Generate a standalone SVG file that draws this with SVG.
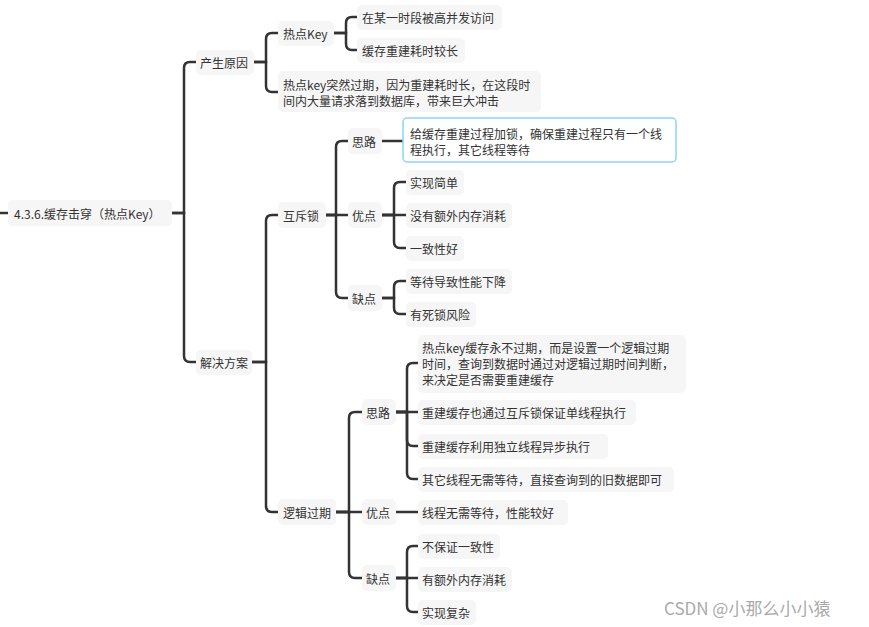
<svg xmlns="http://www.w3.org/2000/svg" width="869" height="627" viewBox="0 0 869 627">
<style>
.b{fill:#f6f6f6}
.hl{fill:#fff;stroke:#8fd3f5;stroke-width:1.5}
text{font-family:"Noto Sans CJK SC","Liberation Sans",sans-serif;font-size:12px;fill:#333;dominant-baseline:central}
.c path{fill:none;stroke:#333;stroke-width:2.5;stroke-linecap:round}
.wm{font-size:17px;fill:#aaa}
</style>
<rect width="869" height="627" fill="#fff"/>
<g class="c">
<path d="M0 213H8"/>
<path d="M172 213H184V68Q184 62 190 62H196"/>
<path d="M172 213H184V356Q184 362 190 362H196"/>
<path d="M254 62H266V39Q266 33 272 33H278"/>
<path d="M254 62H266V86Q266 92 272 92H278"/>
<path d="M334 33H346V23Q346 17 352 17H357"/>
<path d="M334 33H346V44Q346 50 352 50H357"/>
<path d="M252 362H266V221Q266 215 272 215H278"/>
<path d="M252 362H266V506Q266 512 272 512H278"/>
<path d="M326 215H336V147Q336 141 342 141H348"/>
<path d="M326 215H348"/>
<path d="M326 215H336V292Q336 298 342 298H348"/>
<path d="M382 141H403"/>
<path d="M382 215H394V188Q394 182 400 182H406"/>
<path d="M382 215H406"/>
<path d="M382 215H394V242Q394 248 400 248H406"/>
<path d="M382 298H394V287Q394 281 400 281H406"/>
<path d="M382 298H394V308Q394 314 400 314H406"/>
<path d="M336 512H349V418Q349 412 355 412H362"/>
<path d="M336 512H362"/>
<path d="M336 512H349V572Q349 578 355 578H362"/>
<path d="M396 412H407V369Q407 363 413 363H418"/>
<path d="M396 412H418"/>
<path d="M396 412H407V440Q407 446 413 446H418"/>
<path d="M396 412H407V473Q407 479 413 479H418"/>
<path d="M396 512H418"/>
<path d="M396 578H407V552Q407 546 413 546H418"/>
<path d="M396 578H418"/>
<path d="M396 578H407V606Q407 612 413 612H418"/>
</g>
<g id="root"><rect class="b" x="8" y="200" width="164" height="26" rx="5"/><text x="14" y="213">4.3.6.缓存击穿（热点Key）</text></g>
<g id="n1"><rect class="b" x="196" y="50" width="58" height="25" rx="5"/><text x="200" y="62">产生原因</text></g>
<g id="n2"><rect class="b" x="196" y="350" width="56" height="25" rx="5"/><text x="200" y="362">解决方案</text></g>
<g id="n11"><rect class="b" x="278" y="21" width="56" height="25" rx="5"/><text x="283" y="33">热点Key</text></g>
<g id="n111"><rect class="b" x="357" y="5" width="145" height="25" rx="5"/><text x="362" y="17">在某一时段被高并发访问</text></g>
<g id="n112"><rect class="b" x="357" y="38" width="108" height="25" rx="5"/><text x="362" y="50">缓存重建耗时较长</text></g>
<g id="n12"><rect class="b" x="278" y="71" width="263" height="41" rx="5"/><text x="283" y="84">热点key突然过期，因为重建耗时长，在这段时</text><text x="283" y="100">间内大量请求落到数据库，带来巨大冲击</text></g>
<g id="n21"><rect class="b" x="278" y="202" width="48" height="26" rx="5"/><text x="283" y="215">互斥锁</text></g>
<g id="n211"><rect class="b" x="348" y="128" width="34" height="26" rx="5"/><text x="352" y="141">思路</text></g>
<g id="n2111"><rect class="hl" x="403" y="118" width="273" height="44" rx="4"/><text x="410" y="133">给缓存重建过程加锁，确保重建过程只有一个线</text><text x="410" y="149">程执行，其它线程等待</text></g>
<g id="n212"><rect class="b" x="348" y="202" width="34" height="26" rx="5"/><text x="352" y="215">优点</text></g>
<g id="n2121"><rect class="b" x="406" y="170" width="58" height="25" rx="5"/><text x="410" y="182">实现简单</text></g>
<g id="n2122"><rect class="b" x="406" y="203" width="106" height="25" rx="5"/><text x="410" y="215">没有额外内存消耗</text></g>
<g id="n2123"><rect class="b" x="406" y="236" width="58" height="25" rx="5"/><text x="410" y="248">一致性好</text></g>
<g id="n213"><rect class="b" x="348" y="285" width="34" height="26" rx="5"/><text x="352" y="298">缺点</text></g>
<g id="n2131"><rect class="b" x="406" y="269" width="106" height="25" rx="5"/><text x="410" y="281">等待导致性能下降</text></g>
<g id="n2132"><rect class="b" x="406" y="302" width="70" height="25" rx="5"/><text x="410" y="314">有死锁风险</text></g>
<g id="n22"><rect class="b" x="278" y="499" width="58" height="26" rx="5"/><text x="283" y="512">逻辑过期</text></g>
<g id="n221"><rect class="b" x="362" y="399" width="34" height="26" rx="5"/><text x="366" y="412">思路</text></g>
<g id="n2211"><rect class="b" x="418" y="335" width="268" height="58" rx="5"/><text x="422" y="347">热点key缓存永不过期，而是设置一个逻辑过期</text><text x="422" y="363">时间，查询到数据时通过对逻辑过期时间判断，</text><text x="422" y="379">来决定是否需要重建缓存</text></g>
<g id="n2212"><rect class="b" x="418" y="400" width="218" height="25" rx="5"/><text x="422" y="412">重建缓存也通过互斥锁保证单线程执行</text></g>
<g id="n2213"><rect class="b" x="418" y="434" width="190" height="25" rx="5"/><text x="422" y="446">重建缓存利用独立线程异步执行</text></g>
<g id="n2214"><rect class="b" x="418" y="467" width="256" height="25" rx="5"/><text x="422" y="479">其它线程无需等待，直接查询到的旧数据即可</text></g>
<g id="n222"><rect class="b" x="362" y="499" width="34" height="26" rx="5"/><text x="366" y="512">优点</text></g>
<g id="n2221"><rect class="b" x="418" y="500" width="150" height="25" rx="5"/><text x="422" y="512">线程无需等待，性能较好</text></g>
<g id="n223"><rect class="b" x="362" y="565" width="34" height="26" rx="5"/><text x="366" y="578">缺点</text></g>
<g id="n2231"><rect class="b" x="418" y="534" width="82" height="25" rx="5"/><text x="422" y="546">不保证一致性</text></g>
<g id="n2232"><rect class="b" x="418" y="567" width="94" height="25" rx="5"/><text x="422" y="579">有额外内存消耗</text></g>
<g id="n2233"><rect class="b" x="418" y="600" width="58" height="25" rx="5"/><text x="422" y="612">实现复杂</text></g>
<text class="wm" x="664" y="607">CSDN @小那么小小猿</text>
</svg>
